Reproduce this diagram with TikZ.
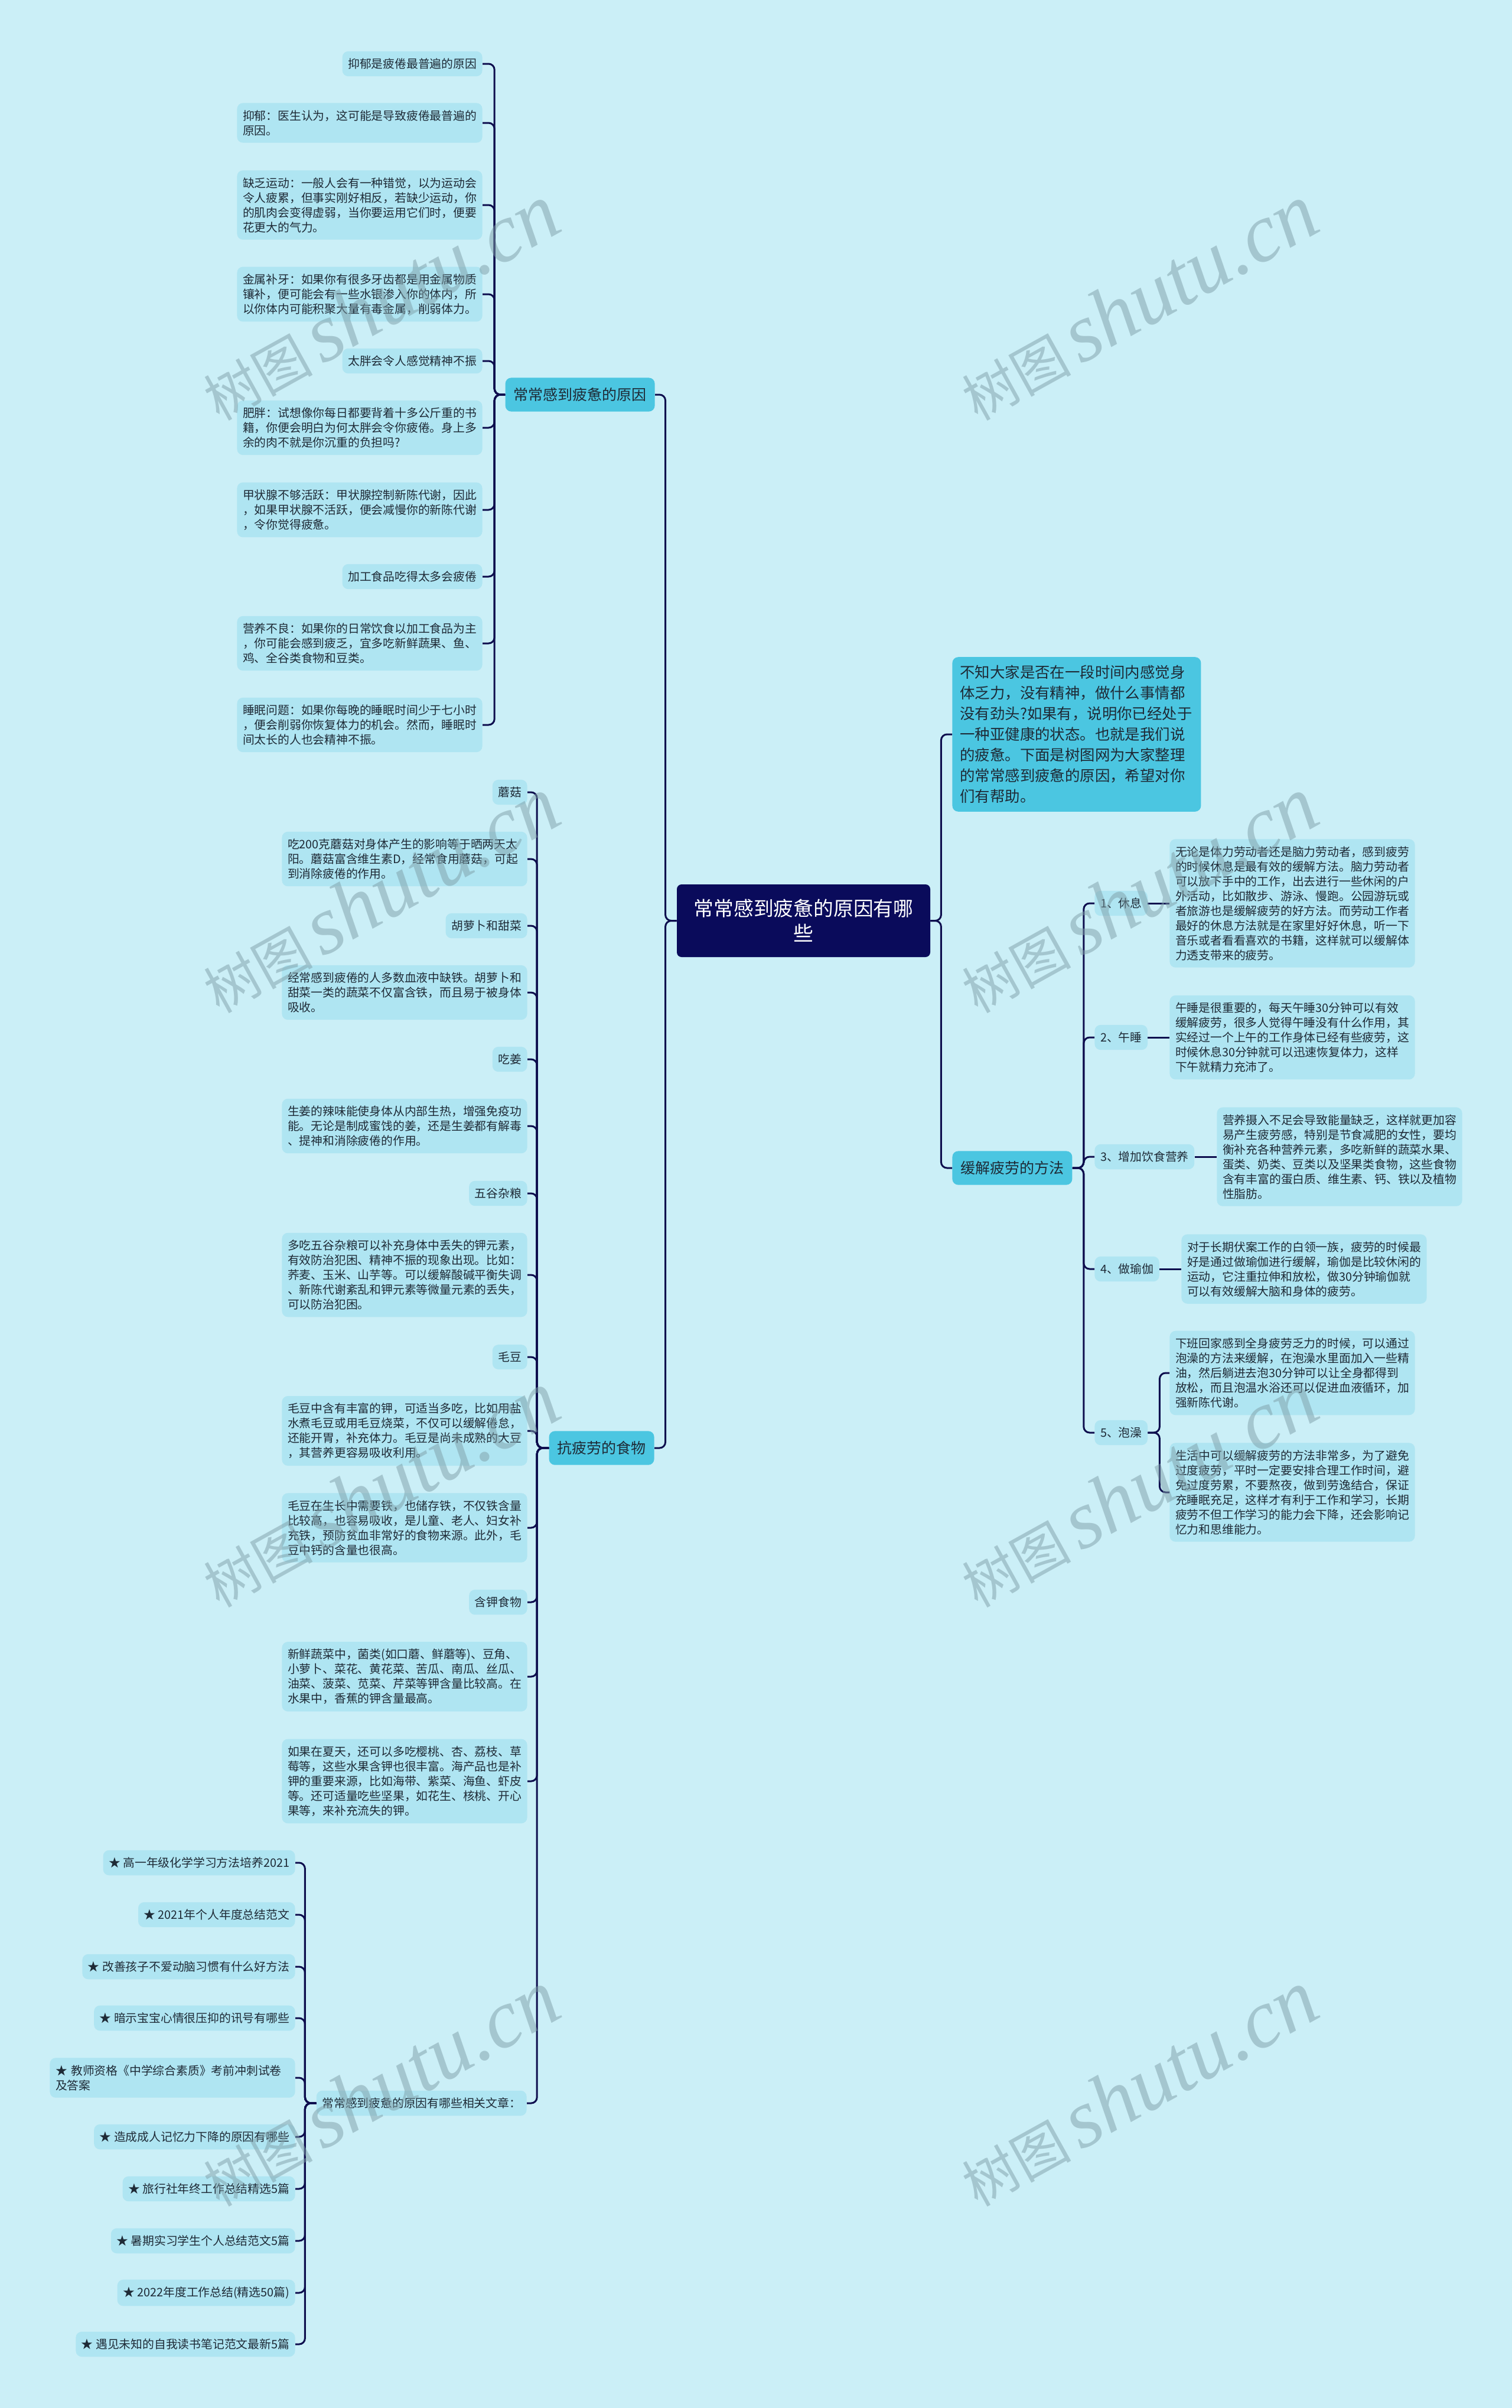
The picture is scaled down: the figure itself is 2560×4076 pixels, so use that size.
\documentclass[tikz,border=0pt]{standalone}
\usepackage{fontspec}
\setmainfont{Noto Sans CJK SC}
\newfontfamily\wmfont{Liberation Serif}
\definecolor{cbg}{HTML}{CBEFF7}
\definecolor{cleaf}{HTML}{AFE5F2}
\definecolor{cbranch}{HTML}{4BC6E1}
\definecolor{croot}{HTML}{0A0B5B}
\definecolor{cline}{HTML}{0E0E4E}
\definecolor{ctxt}{HTML}{1E2A36}
\definecolor{cwm}{HTML}{7F9FA8}
\begin{document}
\begin{tikzpicture}[x=0.5pt,y=-0.5pt,
  conn/.style={draw=cline, line width=1.5pt, rounded corners=5pt},
  mmbox/.style={rounded corners=5pt, text=ctxt, inner xsep=4.8pt, inner ysep=6pt},
  leafbox/.style={mmbox, fill=cleaf, font=\fontsize{9.9pt}{12.5pt}\selectfont},
  leafpara/.style={leafbox, text width=198pt, align=left},
  branchbox/.style={mmbox, fill=cbranch, font=\fontsize{12.5pt}{15pt}\selectfont, inner xsep=7pt, inner ysep=8.5pt},
  wmark/.style={rotate=29, text=cwm, opacity=0.5, inner sep=0pt}
]
\fill[cbg] (0,0) rectangle (2560,4076);
\useasboundingbox (0,0) rectangle (2560,4076);

% root
\node[fill=croot, text=white, rounded corners=4pt, minimum width=214.5pt, minimum height=61.5pt, text width=190pt, align=center, font=\fontsize{16.9pt}{21pt}\selectfont] (root) at (1360.5,1558.5) {常常感到疲惫的原因有哪\\些};

% level 1
\node[branchbox, anchor=east] (b1) at (1109,668) {常常感到疲惫的原因};
\node[branchbox, anchor=east] (food) at (1108,2451) {抗疲劳的食物};
\node[branchbox, anchor=west, text width=197.5pt, align=left, inner xsep=6.5pt, inner ysep=7pt, font=\fontsize{12.7pt}{17.5pt}\selectfont] (intro) at (1612,1243) {不知大家是否在一段时间内感觉身\\体乏力，没有精神，做什么事情都\\没有劲头?如果有，说明你已经处于\\一种亚健康的状态。也就是我们说\\的疲惫。下面是树图网为大家整理\\的常常感到疲惫的原因，希望对你\\们有帮助。};
\node[branchbox, anchor=west] (relax) at (1612,1977) {缓解疲劳的方法};

% causes
\node[leafbox, anchor=east] (c1) at (817,108) {抑郁是疲倦最普遍的原因};
\node[leafpara, anchor=east] (c2) at (817,208) {抑郁：医生认为，这可能是导致疲倦最普遍的\\原因。};
\node[leafpara, anchor=east] (c3) at (817,347) {缺乏运动：一般人会有一种错觉，以为运动会\\令人疲累，但事实刚好相反，若缺少运动，你\\的肌肉会变得虚弱，当你要运用它们时，便要\\花更大的气力。};
\node[leafpara, anchor=east] (c4) at (817,498) {金属补牙：如果你有很多牙齿都是用金属物质\\镶补，便可能会有一些水银渗入你的体内，所\\以你体内可能积聚大量有毒金属，削弱体力。};
\node[leafbox, anchor=east] (c5) at (817,611) {太胖会令人感觉精神不振};
\node[leafpara, anchor=east] (c6) at (817,724) {肥胖：试想像你每日都要背着十多公斤重的书\\籍，你便会明白为何太胖会令你疲倦。身上多\\余的肉不就是你沉重的负担吗?};
\node[leafpara, anchor=east] (c7) at (817,863) {甲状腺不够活跃：甲状腺控制新陈代谢，因此\\，如果甲状腺不活跃，便会减慢你的新陈代谢\\，令你觉得疲惫。};
\node[leafbox, anchor=east] (c8) at (817,976) {加工食品吃得太多会疲倦};
\node[leafpara, anchor=east] (c9) at (817,1089) {营养不良：如果你的日常饮食以加工食品为主\\，你可能会感到疲乏，宜多吃新鲜蔬果、鱼、\\鸡、全谷类食物和豆类。};
\node[leafpara, anchor=east] (c10) at (817,1227) {睡眠问题：如果你每晚的睡眠时间少于七小时\\，便会削弱你恢复体力的机会。然而，睡眠时\\间太长的人也会精神不振。};

% foods
\node[leafbox, anchor=east] (f1) at (893,1341) {蘑菇};
\node[leafpara, anchor=east] (f2) at (893,1454) {吃200克蘑菇对身体产生的影响等于晒两天太\\阳。蘑菇富含维生素D，经常食用蘑菇，可起\\到消除疲倦的作用。};
\node[leafbox, anchor=east] (f3) at (893,1567) {胡萝卜和甜菜};
\node[leafpara, anchor=east] (f4) at (893,1680) {经常感到疲倦的人多数血液中缺铁。胡萝卜和\\甜菜一类的蔬菜不仅富含铁，而且易于被身体\\吸收。};
\node[leafbox, anchor=east] (f5) at (893,1793) {吃姜};
\node[leafpara, anchor=east] (f6) at (893,1906) {生姜的辣味能使身体从内部生热，增强免疫功\\能。无论是制成蜜饯的姜，还是生姜都有解毒\\、提神和消除疲倦的作用。};
\node[leafbox, anchor=east] (f7) at (893,2020) {五谷杂粮};
\node[leafpara, anchor=east] (f8) at (893,2158) {多吃五谷杂粮可以补充身体中丢失的钾元素，\\有效防治犯困、精神不振的现象出现。比如：\\荞麦、玉米、山芋等。可以缓解酸碱平衡失调\\、新陈代谢紊乱和钾元素等微量元素的丢失，\\可以防治犯困。};
\node[leafbox, anchor=east] (f9) at (893,2297) {毛豆};
\node[leafpara, anchor=east] (f10) at (893,2422) {毛豆中含有丰富的钾，可适当多吃，比如用盐\\水煮毛豆或用毛豆烧菜，不仅可以缓解倦怠，\\还能开胃，补充体力。毛豆是尚未成熟的大豆\\，其营养更容易吸收利用。};
\node[leafpara, anchor=east] (f11) at (893,2586) {毛豆在生长中需要铁，也储存铁，不仅铁含量\\比较高，也容易吸收，是儿童、老人、妇女补\\充铁，预防贫血非常好的食物来源。此外，毛\\豆中钙的含量也很高。};
\node[leafbox, anchor=east] (f12) at (893,2712) {含钾食物};
\node[leafpara, anchor=east] (f13) at (893,2838) {新鲜蔬菜中，菌类(如口蘑、鲜蘑等)、豆角、\\小萝卜、菜花、黄花菜、苦瓜、南瓜、丝瓜、\\油菜、菠菜、苋菜、芹菜等钾含量比较高。在\\水果中，香蕉的钾含量最高。};
\node[leafpara, anchor=east] (f14) at (893,3015) {如果在夏天，还可以多吃樱桃、杏、荔枝、草\\莓等，这些水果含钾也很丰富。海产品也是补\\钾的重要来源，比如海带、紫菜、海鱼、虾皮\\等。还可适量吃些坚果，如花生、核桃、开心\\果等，来补充流失的钾。};

% related articles
\node[leafbox, anchor=east] (rel) at (892,3560) {常常感到疲惫的原因有哪些相关文章：};
\node[leafbox, anchor=east] (r1) at (500,3153) {★ 高一年级化学学习方法培养2021};
\node[leafbox, anchor=east] (r2) at (500,3241) {★ 2021年个人年度总结范文};
\node[leafbox, anchor=east] (r3) at (500,3329) {★ 改善孩子不爱动脑习惯有什么好方法};
\node[leafbox, anchor=east] (r4) at (500,3416) {★ 暗示宝宝心情很压抑的讯号有哪些};
\node[leafpara, anchor=east] (r5) at (500,3517) {★ 教师资格《中学综合素质》考前冲刺试卷\\及答案};
\node[leafbox, anchor=east] (r6) at (500,3617) {★ 造成成人记忆力下降的原因有哪些};
\node[leafbox, anchor=east] (r7) at (500,3705) {★ 旅行社年终工作总结精选5篇};
\node[leafbox, anchor=east] (r8) at (500,3793) {★ 暑期实习学生个人总结范文5篇};
\node[leafbox, anchor=east] (r9) at (500,3881) {★ 2022年度工作总结(精选50篇)};
\node[leafbox, anchor=east] (r10) at (500,3968) {★ 遇见未知的自我读书笔记范文最新5篇};

% methods
\node[leafbox, anchor=west] (m1) at (1853,1529) {1、休息};
\node[leafbox, anchor=west] (m2) at (1853,1756) {2、午睡};
\node[leafbox, anchor=west] (m3) at (1853,1958) {3、增加饮食营养};
\node[leafbox, anchor=west] (m4) at (1853,2148) {4、做瑜伽};
\node[leafbox, anchor=west] (m5) at (1853,2425) {5、泡澡};
\node[leafpara, anchor=west] (m1t) at (1980,1529) {无论是体力劳动者还是脑力劳动者，感到疲劳\\的时候休息是最有效的缓解方法。脑力劳动者\\可以放下手中的工作，出去进行一些休闲的户\\外活动，比如散步、游泳、慢跑。公园游玩或\\者旅游也是缓解疲劳的好方法。而劳动工作者\\最好的休息方法就是在家里好好休息，听一下\\音乐或者看看喜欢的书籍，这样就可以缓解体\\力透支带来的疲劳。};
\node[leafpara, anchor=west] (m2t) at (1980,1756) {午睡是很重要的，每天午睡30分钟可以有效\\缓解疲劳，很多人觉得午睡没有什么作用，其\\实经过一个上午的工作身体已经有些疲劳，这\\时候休息30分钟就可以迅速恢复体力，这样\\下午就精力充沛了。};
\node[leafpara, anchor=west] (m3t) at (2060,1958) {营养摄入不足会导致能量缺乏，这样就更加容\\易产生疲劳感，特别是节食减肥的女性，要均\\衡补充各种营养元素，多吃新鲜的蔬菜水果、\\蛋类、奶类、豆类以及坚果类食物，这些食物\\含有丰富的蛋白质、维生素、钙、铁以及植物\\性脂肪。};
\node[leafpara, anchor=west] (m4t) at (2000,2148) {对于长期伏案工作的白领一族，疲劳的时候最\\好是通过做瑜伽进行缓解，瑜伽是比较休闲的\\运动，它注重拉伸和放松，做30分钟瑜伽就\\可以有效缓解大脑和身体的疲劳。};
\node[leafpara, anchor=west] (m5a) at (1980,2324) {下班回家感到全身疲劳乏力的时候，可以通过\\泡澡的方法来缓解，在泡澡水里面加入一些精\\油，然后躺进去泡30分钟可以让全身都得到\\放松，而且泡温水浴还可以促进血液循环，加\\强新陈代谢。};
\node[leafpara, anchor=west] (m5b) at (1980,2526) {生活中可以缓解疲劳的方法非常多，为了避免\\过度疲劳，平时一定要安排合理工作时间，避\\免过度劳累，不要熬夜，做到劳逸结合，保证\\充睡眠充足，这样才有利于工作和学习，长期\\疲劳不但工作学习的能力会下降，还会影响记\\忆力和思维能力。};

% connectors: root
\foreach \t in {b1,food} \draw[conn] (root.west) -- ++(-19,0) |- (\t.east);
\foreach \t in {intro,relax} \draw[conn] (root.east) -- ++(18,0) |- (\t.west);
% causes
\foreach \t in {c1,c2,c3,c4,c5,c6,c7,c8,c9,c10} \draw[conn] (b1.west) -- ++(-18,0) |- (\t.east);
% foods
\foreach \t in {f1,f2,f3,f4,f5,f6,f7,f8,f9,f10,f11,f12,f13,f14} \draw[conn] (food.west) -- ++(-20,0) |- (\t.east);
\draw[conn] (food.west) -- ++(-20,0) |- (rel.east);
% related
\foreach \t in {r1,r2,r3,r4,r5,r6,r7,r8,r9,r10} \draw[conn] (rel.west) -- ++(-19,0) |- (\t.east);
% methods
\foreach \t in {m1,m2,m3,m4,m5} \draw[conn] (relax.east) -- ++(19,0) |- (\t.west);
\draw[conn] (m1.east) -- (m1t.west);
\draw[conn] (m2.east) -- (m2t.west);
\draw[conn] (m3.east) -- (m3t.west);
\draw[conn] (m4.east) -- (m4t.west);
\foreach \t in {m5a,m5b} \draw[conn] (m5.east) -- ++(20,0) |- (\t.west);

% watermarks
\foreach \n/\px/\py in {1/643/512, 2/1927/512, 3/643/1515, 4/1927/1515, 5/643/2521, 6/1927/2521, 7/643/3535, 8/1927/3535}
  \node[wmark] (wm\n) at (\px,\py) {\fontsize{46pt}{46pt}\selectfont 树图\,\wmfont\itshape\fontsize{70pt}{70pt}\selectfont shutu.cn};
\end{tikzpicture}
\end{document}
